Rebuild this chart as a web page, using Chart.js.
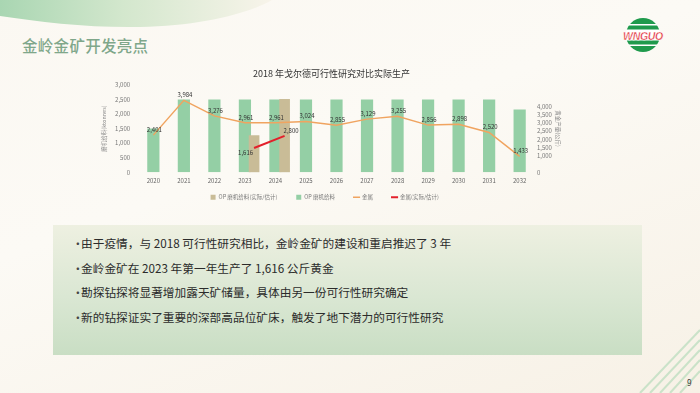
<!DOCTYPE html>
<html>
<head>
<meta charset="utf-8">
<script src="https://cdn.jsdelivr.net/npm/chart.js@4.4.1/dist/chart.umd.min.js"></script>
<style>
  html, body { margin: 0; padding: 0; }
  body {
    width: 700px; height: 393px; position: relative; overflow: hidden;
    background: linear-gradient(160deg, #fbf8f2 0%, #fcfaf5 40%, #f7f1e6 100%);
    font-family: "Noto Sans CJK SC", "Noto Sans", sans-serif;
  }
  #deco { position: absolute; left: 0; top: 0; }
  #pageTitle {
    position: absolute; left: 22px; top: 34px; margin: 0;
    font-size: 15.5px; font-weight: 500; color: #7fa78a; letter-spacing: 0.3px;
  }
  #chartBox { position: absolute; left: 95px; top: 59px; width: 480px; height: 151px; }
  #notes {
    position: absolute; left: 53px; top: 225px; width: 589px; height: 130px;
    background: linear-gradient(180deg, #eef0e1 0%, #dae7d3 55%, #c9dec4 100%);
  }
  #notes ul { margin: 0; padding: 9px 0 0 20px; list-style: none; }
  #notes li { font-size: 11.7px; color: #2b2b2b; height: 24.7px; line-height: 18px; position: relative; padding-left: 8px; }
  #notes li::before { content: "•"; position: absolute; left: -1px; top: 0; color: #444; }
  #pageNo { position: absolute; left: 687px; top: 377px; font-size: 8px; color: #333; font-family: "Noto Sans", sans-serif; }
</style>
</head>
<body>
<svg id="deco" width="700" height="393">
  <defs>
    <linearGradient id="wave" x1="0" y1="0" x2="1" y2="0">
      <stop offset="0" stop-color="#a9d6b2"/>
      <stop offset="0.45" stop-color="#d3e7cd"/>
      <stop offset="1" stop-color="#f8f4ea"/>
    </linearGradient>
    <clipPath id="logoClip"><circle cx="643" cy="35" r="17"/></clipPath>
  </defs>
  <path d="M0,0 H272 C248,14 200,26 140,27 C90,28 40,22 0,16 Z" fill="url(#wave)"/>
  <g stroke="#b7dcbc" stroke-width="2" opacity="0.7">
    <line x1="640" y1="393" x2="700" y2="330"/>
    <line x1="650" y1="393" x2="700" y2="340"/>
    <line x1="660" y1="393" x2="700" y2="350"/>
    <line x1="670" y1="393" x2="700" y2="360"/>
    <line x1="680" y1="393" x2="700" y2="371"/>
  </g>
  <g clip-path="url(#logoClip)">
    <rect x="624" y="17" width="40" height="36" fill="#fff"/>
    <rect x="624" y="18" width="40" height="6" fill="#1f9a4c"/>
    <rect x="624" y="25.5" width="40" height="4" fill="#1f9a4c"/>
    <rect x="624" y="40.5" width="40" height="4" fill="#1f9a4c"/>
    <rect x="624" y="46" width="40" height="7" fill="#1f9a4c"/>
  </g>
  <text x="643" y="39.5" text-anchor="middle" font-family="Liberation Sans, sans-serif" font-weight="bold" font-style="italic"
        font-size="10.5" fill="#e0202a" stroke="#fff" stroke-width="0.4" letter-spacing="-0.3">WNGUO</text>
</svg>

<h1 id="pageTitle">金岭金矿开发亮点</h1>

<div id="chartBox"><canvas id="goldChart"></canvas></div>

<div id="notes">
  <ul>
    <li>由于疫情，与 2018 可行性研究相比，金岭金矿的建设和重启推迟了 3 年</li>
    <li>金岭金矿在 2023 年第一年生产了 1,616 公斤黄金</li>
    <li>勘探钻探将显著增加露天矿储量，具体由另一份可行性研究确定</li>
    <li>新的钻探证实了重要的深部高品位矿床，触发了地下潜力的可行性研究</li>
  </ul>
</div>

<div id="pageNo">9</div>

<script>
// ===============================
// DONNEES
// ===============================
const years = ['2020', '2021', '2022', '2023', '2024', '2025', '2026', '2027', '2028', '2029', '2030', '2031', '2032'];
const feedPlan = [1500, 2500, 2500, 2500, 2500, 2500, 2500, 2500, 2500, 2500, 2500, 2500, 2150];
const actualYears = [2023, 2024];
const feedActual = [1260, 2500];
const goldPlan = [2401, 3984, 3276, 2961, 2961, 3024, 2855, 3129, 3255, 2856, 2898, 2520, 1433];
const goldActual = [1616, 2800];
const rightTicks = [0, 1000, 1500, 2000, 2500, 3000, 3500, 4000];

const CJK = '"Noto Sans CJK SC", "Noto Sans", sans-serif';
const fmt = v => v.toLocaleString('en-US');
const LINE_IDX = 2;
const RED_IDX = 3;

// etiquettes de valeurs (pas de plugin datalabels hors ligne)
const valueLabels = {
  id: 'valueLabels',
  afterDatasetsDraw(chart) {
    const ctx = chart.ctx;
    ctx.save();
    ctx.font = '6px ' + CJK;
    ctx.fillStyle = '#333';
    ctx.textBaseline = 'bottom';
    ctx.textAlign = 'center';
    chart.getDatasetMeta(LINE_IDX).data.forEach((pt, i) => {
      ctx.fillText(fmt(goldPlan[i]), pt.x + 1, pt.y - 2.5);
    });
    const red = chart.getDatasetMeta(RED_IDX).data;
    if (red.length === 2) {
      ctx.textBaseline = 'middle';
      ctx.textAlign = 'right';
      ctx.fillText(fmt(goldActual[0]), red[0].x - 1, red[0].y + 5);
      ctx.textAlign = 'left';
      ctx.fillText(fmt(goldActual[1]), red[1].x - 1, red[1].y - 5);
    }
    ctx.restore();
  }
};

Chart.defaults.font.family = CJK;
Chart.defaults.color = '#777';

const baseLabels = Chart.defaults.plugins.legend.labels.generateLabels;

new Chart(document.getElementById('goldChart'), {
  type: 'bar',
  data: {
    labels: years,
    datasets: [
      {
        label: 'OP 磨机给料(实际/估计)',
        data: actualYears.map((y, i) => ({ x: y, y: feedActual[i] })),
        xAxisID: 'xShift',
        backgroundColor: '#c9bc97',
        grouped: false,
        barThickness: 10,
        order: 2,
        pointStyle: 'rect'
      },
      {
        label: 'OP 磨机给料',
        data: feedPlan,
        backgroundColor: '#94cfa5',
        grouped: false,
        categoryPercentage: 0.8,
        barPercentage: 0.5,
        order: 3,
        pointStyle: 'rect'
      },
      {
        type: 'line',
        label: '金属',
        data: goldPlan,
        yAxisID: 'yLine',
        borderColor: '#f0a460',
        backgroundColor: '#f0a460',
        borderWidth: 1.5,
        pointRadius: 0,
        tension: 0,
        order: 0,
        pointStyle: 'line'
      },
      {
        type: 'line',
        label: '金属(实际/估计)',
        data: actualYears.map((y, i) => ({ x: y, y: goldActual[i] })),
        xAxisID: 'xShift',
        yAxisID: 'yRed',
        borderColor: '#e3202b',
        backgroundColor: '#e3202b',
        borderWidth: 2,
        pointRadius: 0,
        order: 0,
        pointStyle: 'line'
      }
    ]
  },
  options: {
    responsive: true,
    maintainAspectRatio: false,
    animation: false,
    layout: { padding: { left: 5.5, right: 12.5, top: 0, bottom: 0 } },
    plugins: {
      title: {
        display: true,
        text: '2018 年戈尔德可行性研究对比实际生产',
        color: '#333',
        font: { size: 9, weight: 'normal' },
        padding: { top: 9, bottom: 6 }
      },
      legend: {
        position: 'bottom',
        labels: {
          generateLabels: chart => baseLabels(chart)
            .sort((a, b) => a.datasetIndex - b.datasetIndex)
            .map(l => ({ ...l, text: l.text + '\u2002\u2002\u2002\u2002\u2002' })),
          usePointStyle: true,
          boxWidth: 6,
          boxHeight: 5,
          padding: 5,
          color: '#777',
          font: { size: 5.5 }
        }
      },
      tooltip: { enabled: false }
    },
    scales: {
      x: {
        offset: true,
        grid: { display: false, drawTicks: false },
        border: { display: false },
        ticks: { font: { size: 6 }, color: '#666', padding: 5 }
      },
      // axe caché : décale les barres réelles et la ligne rouge à droite du centre
      xShift: {
        type: 'linear',
        display: false,
        offset: false,
        grid: { offset: false },
        min: 2019.2,
        max: 2032.2,
        ticks: { stepSize: 1 }
      },
      y: {
        position: 'left',
        min: 0,
        max: 3000,
        grid: { display: false, drawTicks: false },
        border: { display: false },
        ticks: { stepSize: 500, font: { size: 6 }, color: '#777', padding: 8 },
        title: { display: true, text: '磨机给料(ktonnes)', font: { size: 5.5 }, color: '#888', padding: 0 }
      },
      y1: {
        position: 'right',
        min: 0,
        max: 5300,
        afterBuildTicks: axis => { axis.ticks = rightTicks.map(v => ({ value: v })); },
        grid: { display: false, drawTicks: false },
        border: { display: false },
        ticks: { font: { size: 6 }, color: '#777', padding: 2 },
        title: { display: true, text: '黄金产量(公斤)', font: { size: 5.5 }, color: '#888', padding: 1 }
      },
      yLine: { display: false, min: 710, max: 4690 },
      yRed: { display: false, min: -750, max: 7770 }
    }
  },
  plugins: [valueLabels]
});
</script>
</body>
</html>
